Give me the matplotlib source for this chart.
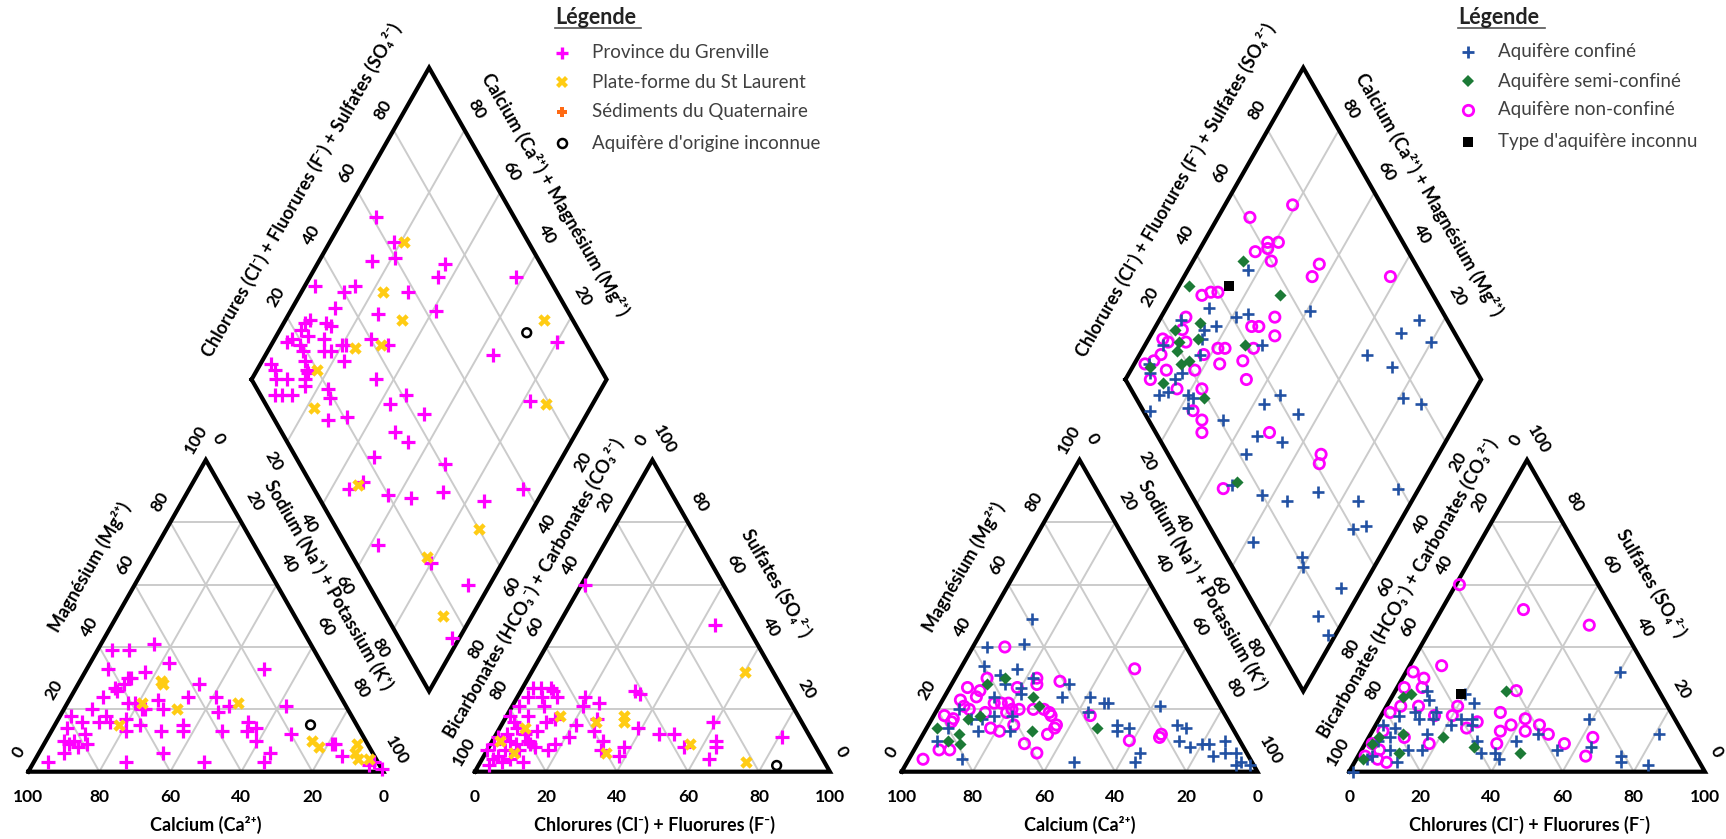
import numpy as np
import matplotlib
matplotlib.use("Agg")
import matplotlib.pyplot as plt
from matplotlib.lines import Line2D

plt.rcParams["font.family"] = ["Lato", "DejaVu Sans"]

# ----------------------------------------------------------------------
# Piper data (percent of meq/L)
#   cation triangle : (Mg, Na+K)        Ca = 100 - Mg - (Na+K)
#   anion triangle  : (SO4, Cl+F)       HCO3+CO3 = 100 - SO4 - (Cl+F)
#   diamond         : (Na+K, Cl+F+SO4)
# ----------------------------------------------------------------------

# ---- left diagram : geological setting ----
grenville_cat = [(39, 4), (39, 9), (41, 15), (35, 22), (33, 6), (32, 17), (30, 13), (30, 14),
                 (28, 13), (27, 11), (26, 12), (28, 34), (24, 33), (24, 41), (33, 50), (24, 9),
                 (23, 25), (22, 17), (22, 19), (20, 22), (20, 28), (20, 8), (19, 44), (21, 46),
                 (21, 62), (18, 3), (18, 13), (16, 12), (16, 15), (17, 19), (15, 24), (15, 36),
                 (13, 37), (13, 21), (13, 31), (13, 48), (16, 54), (14, 57), (13, 55), (14, 4),
                 (16, 7), (10, 5), (10, 8), (12, 10), (8, 10), (9, 12), (6, 7), (6, 35), (3, 4),
                 (3, 26), (3, 48), (6, 65), (3, 65), (10, 59), (12, 68), (9, 81), (9, 82), (5, 86),
                 (2, 95), (1, 99), (3, 96), (9, 7), (20, 23)]
grenville_an = [(60, 1), (47, 44), (11, 81), (16, 59), (10, 63), (8, 64), (4, 64), (8, 55),
                (12, 46), (12, 50), (26, 32), (25, 34), (14, 39), (8, 38), (5, 38), (10, 31),
                (7, 32), (17, 26), (13, 27), (24, 19), (21, 20), (22, 24), (15, 21), (11, 21),
                (17, 14), (9, 18), (7, 17), (21, 9), (26, 9), (27, 8), (27, 5), (27, 3), (24, 7),
                (24, 3), (21, 2), (16, 12), (13, 11), (9, 11), (8, 13), (3, 12), (3, 6), (4, 3),
                (7, 0), (9, 1), (12, 3), (16, 3), (18, 1), (14, 5), (12, 8), (9, 7), (7, 5),
                (5, 4), (10, 5), (18, 6), (11, 1), (7, 9), (2, 3), (4, 8), (10, 10), (24, 11)]
grenville_dia = [(9, 61), (18, 62), (15, 53), (21, 60), (36, 73), (36, 69), (58, 91), (3, 33),
                 (12, 40), (14, 44), (30, 58), (12, 35), (25, 46), (41, 63), (7, 26), (6, 24),
                 (12, 30), (14, 31), (6, 22), (9, 23), (5, 18), (4, 16), (14, 27), (8, 19),
                 (10, 19), (16, 25), (18, 27), (20, 31), (21, 32), (27, 40), (33, 44), (23, 29),
                 (12, 18), (14, 17), (15, 17), (3, 8), (5, 8), (7, 7), (10, 10), (15, 15), (9, 4),
                 (11, 6), (14, 9), (16, 14), (23, 20), (25, 19), (28, 15), (33, 21), (35, 35),
                 (46, 41), (43, 35), (54, 43), (49, 32), (54, 34), (64, 72), (80, 92), (82, 75),
                 (47, 22), (68, 41), (45, 10), (48, 15), (57, 20), (64, 26), (72, 36), (85, 46),
                 (94, 59), (62, 9), (80, 21), (94, 28), (98, 15)]

stlaurent_cat = [(29, 23), (28, 24), (22, 21), (20, 32), (15, 18), (22, 48), (10, 75), (8, 78),
                 (9, 88), (6, 89), (4, 91), (4, 94)]
stlaurent_an = [(32, 60), (3, 75), (9, 56), (18, 33), (16, 34), (6, 34), (18, 15), (16, 26),
                (6, 8), (14, 7), (10, 2)]
stlaurent_dia = [(21, 65), (23, 51), (33, 52), (24, 34), (31, 42), (17, 20), (22, 13), (73, 92),
                 (87, 79), (47, 13), (88, 40), (78, 21), (92, 16)]

unknown_origin_cat = [(15, 72)]
unknown_origin_an = [(2, 84)]
unknown_origin_dia = [(70, 85)]

# ---- right diagram : aquifer confinement ----
confined_cat = [(49, 12), (40, 4), (41, 14), (34, 6), (33, 16), (31, 12), (28, 15), (30, 22),
                (27, 20), (28, 33), (24, 33), (24, 41), (22, 46), (22, 47), (21, 62), (19, 43),
                (15, 53), (14, 57), (13, 54), (15, 70), (14, 73), (10, 73), (8, 77), (9, 80),
                (9, 82), (10, 86), (6, 88), (6, 91), (5, 85), (3, 94), (2, 97), (2, 93), (6, 64),
                (3, 64), (3, 47), (13, 24), (18, 17), (13, 15), (17, 11), (20, 6), (14, 6),
                (10, 5), (4, 15), (25, 21), (24, 14), (17, 14), (18, 22)]
confined_an = [(32, 60), (17, 59), (12, 81), (5, 74), (3, 75), (2, 83), (8, 64), (7, 55),
               (12, 47), (10, 42), (4, 40), (6, 38), (10, 31), (6, 34), (22, 24), (25, 20),
               (17, 26), (17, 23), (15, 21), (19, 15), (23, 11), (26, 9), (19, 9), (17, 11),
               (7, 17), (12, 16), (7, 13), (18, 5), (14, 6), (11, 6), (7, 8), (10, 3), (5, 4),
               (4, 3), (0, 1), (3, 12), (15, 2), (17, 15), (15, 27)]
confined_dia = [(17, 52), (12, 35), (21, 41), (24, 45), (17, 34), (14, 30), (41, 63), (6, 25),
                (15, 28), (33, 44), (17, 25), (5, 16), (4, 9), (6, 8), (15, 17), (14, 14),
                (12, 7), (14, 10), (20, 15), (22, 16), (22, 13), (34, 21), (12, 2), (43, 35),
                (46, 41), (54, 43), (46, 28), (54, 34), (64, 72), (70, 85), (73, 92), (80, 92),
                (73, 77), (81, 75), (87, 79), (46, 22), (47, 13), (57, 20), (65, 26), (72, 36),
                (85, 46), (94, 59), (88, 40), (91, 44), (62, 10), (78, 21), (80, 20), (94, 27),
                (92, 16), (98, 16)]

semiconfined_cat = [(28, 10), (30, 14), (24, 25), (21, 28), (18, 13), (17, 10), (14, 3), (10, 8),
                    (12, 10), (9, 12), (13, 30), (14, 48)]
semiconfined_an = [(26, 31), (11, 21), (8, 31), (6, 45), (24, 3), (25, 5), (12, 9), (9, 2),
                   (11, 3), (6, 11), (4, 2)]
semiconfined_dia = [(14, 52), (3, 33), (30, 57), (12, 30), (6, 22), (9, 21), (14, 27), (28, 39),
                    (10, 19), (13, 18), (15, 21), (11, 10), (5, 9), (25, 19), (48, 15)]

unconfined_cat = [(40, 9), (33, 49), (30, 9), (27, 5), (26, 9), (30, 23), (28, 24), (29, 30),
                  (27, 19), (23, 5), (21, 7), (24, 9), (22, 15), (22, 17), (22, 19), (20, 21),
                  (20, 23), (20, 27), (20, 30), (19, 32), (18, 33), (15, 36), (14, 36), (12, 35),
                  (15, 24), (13, 21), (14, 18), (18, 3), (16, 6), (17, 6), (9, 30), (6, 35),
                  (7, 7), (7, 10), (4, 4), (18, 44), (10, 59), (12, 67), (11, 67), (19, 14),
                  (20, 9), (19, 20)]
unconfined_an = [(60, 1), (52, 23), (47, 44), (34, 9), (32, 2), (30, 6), (27, 7), (27, 2),
                 (26, 34), (21, 9), (21, 20), (19, 33), (18, 20), (18, 15), (16, 28), (14, 26),
                 (13, 36), (15, 38), (17, 41), (13, 43), (15, 46), (12, 50), (9, 56), (11, 63),
                 (5, 64), (9, 37), (9, 18), (3, 9), (4, 6), (19, 2), (13, 3), (9, 2), (5, 2),
                 (21, 4), (11, 10), (7, 5)]
unconfined_dia = [(19, 75), (9, 61), (18, 62), (21, 65), (16, 57), (19, 61), (22, 60), (36, 73),
                  (36, 69), (58, 91), (8, 35), (10, 38), (12, 40), (32, 52), (27, 44), (29, 46),
                  (35, 49), (7, 27), (8, 24), (4, 17), (6, 18), (11, 23), (18, 26), (21, 31),
                  (23, 33), (24, 29), (30, 36), (31, 41), (3, 8), (5, 11), (7, 7), (10, 13),
                  (16, 13), (18, 21), (23, 20), (24, 14), (28, 15), (30, 13), (34, 34), (49, 32),
                  (67, 43), (6, 14), (68, 41), (45, 10)]

unknown_type_cat = []
unknown_type_an = [(25, 19)]
unknown_type_dia = [(14, 44)]

tick_values = [0, 20, 40, 60, 80, 100]
inner_ticks = [20, 40, 60, 80]

# ----------------------------------------------------------------------
# Piper geometry (triangle side = 100 units)
# ----------------------------------------------------------------------
SQ = np.sqrt(3) / 2
GAP = 25.8
XA = 100 + GAP                 # left corner of the anion triangle
DX0 = 50 + GAP / 2             # left corner of the diamond
DY0 = (100 + GAP) * SQ


def cat_xy(pts):
    a = np.asarray(pts, float).reshape(-1, 2)
    mg, na = a[:, 0], a[:, 1]
    return na + mg / 2, mg * SQ


def an_xy(pts):
    a = np.asarray(pts, float).reshape(-1, 2)
    so4, cl = a[:, 0], a[:, 1]
    return XA + cl + so4 / 2, so4 * SQ


def dia_xy(pts):
    a = np.asarray(pts, float).reshape(-1, 2)
    na, s = a[:, 0], a[:, 1]
    return DX0 + (na + s) / 2, DY0 + (s - na) * SQ


def dia_pt(na, s):
    x, y = dia_xy([(na, s)])
    return x[0], y[0]


W, HP = 1726, 839
fig = plt.figure(figsize=(W / 100, HP / 100), dpi=100)
fig.patch.set_facecolor("white")


def make_axes(ox, oy, sx, sy):
    ax = fig.add_axes([0, 0, 1, 1])
    ax.set_xlim(-ox / sx, (W - ox) / sx)
    ax.set_ylim(-(HP - oy) / sy, oy / sy)
    ax.axis("off")
    ax.patch.set_alpha(0)
    return ax


GRID = dict(color="#CBCBCB", lw=1.4, zorder=1, solid_capstyle="butt")
EDGE = dict(color="black", lw=3.0, zorder=2, solid_joinstyle="miter", solid_capstyle="projecting")
TICK = dict(fontsize=12.5, fontweight="bold", color="black", ha="center", va="center",
            rotation_mode="anchor", annotation_clip=False)
TITLE = dict(fontsize=13, fontweight="bold", color="black", ha="center", va="center",
             rotation_mode="anchor")


def tick(ax, x, y, txt, off, rot):
    ax.annotate(txt, (x, y), xytext=off, textcoords="offset pixels", rotation=rot, **TICK)


def frame(ax):
    for v in inner_ticks:
        # cation triangle
        ax.plot([v / 2, 100 - v / 2], [v * SQ, v * SQ], **GRID)
        ax.plot([v, v + (100 - v) / 2], [0, (100 - v) * SQ], **GRID)
        ax.plot([100 - v, (100 - v) / 2], [0, (100 - v) * SQ], **GRID)
        # anion triangle
        ax.plot([XA + v / 2, XA + 100 - v / 2], [v * SQ, v * SQ], **GRID)
        ax.plot([XA + v, XA + v + (100 - v) / 2], [0, (100 - v) * SQ], **GRID)
        ax.plot([XA + 100 - v, XA + (100 - v) / 2], [0, (100 - v) * SQ], **GRID)
        # diamond
        p0, p1 = dia_pt(0, v), dia_pt(100, v)
        ax.plot([p0[0], p1[0]], [p0[1], p1[1]], **GRID)
        p0, p1 = dia_pt(v, 0), dia_pt(v, 100)
        ax.plot([p0[0], p1[0]], [p0[1], p1[1]], **GRID)

    ax.plot([0, 100, 50, 0], [0, 0, 100 * SQ, 0], **EDGE)
    ax.plot([XA, XA + 100, XA + 50, XA], [0, 0, 100 * SQ, 0], **EDGE)
    corners = [dia_pt(0, 0), dia_pt(100, 0), dia_pt(100, 100), dia_pt(0, 100), dia_pt(0, 0)]
    ax.plot([c[0] for c in corners], [c[1] for c in corners], **EDGE)

    # triangle scales
    for v in tick_values:
        tick(ax, 100 - v, 0, str(v), (0, -25), 0)                       # Ca
        tick(ax, v / 2, v * SQ, str(v), (-10, 20), 60)                  # Mg
        tick(ax, v + (100 - v) / 2, (100 - v) * SQ, str(v), (13, 21), -60)  # Na+K
        tick(ax, XA + v, 0, str(v), (0, -25), 0)                        # Cl+F
        tick(ax, XA + (100 - v) / 2, (100 - v) * SQ, str(v), (-11, 20), 60)  # HCO3+CO3
        tick(ax, XA + 100 - v / 2, v * SQ, str(v), (12, 20), -60)        # SO4
    # diamond scales
    for v in inner_ticks:
        x, y = dia_pt(0, v)
        tick(ax, x, y, str(v), (-11, 20), 60)
        x, y = dia_pt(100 - v, 100)
        tick(ax, x, y, str(v), (12, 21), -60)
        x, y = dia_pt(v, 0)
        tick(ax, x, y, str(v), (-13, -19), -60)
        x, y = dia_pt(100, 100 - v)
        tick(ax, x, y, str(v), (12, -20), 60)

    titles = [
        ("Calcium (Ca²⁺)", 50, -14.8, 0),
        ("Magnésium (Mg²⁺)", 17.4, 56.9, 60),
        ("Sodium (Na⁺) + Potassium (K⁺)", 84.5, 51.9, -60),
        ("Chlorures (Cl⁻) + Fluorures (F⁻)", XA + 50.7, -14.8, 0),
        ("Sulfates (SO₄²⁻)", XA + 85.0, 52.3, -60),
        ("Bicarbonates (HCO₃⁻) + Carbonates (CO₃²⁻)", XA + 16.5, 50.9, 60),
        ("Chlorures (Cl⁻) + Fluorures (F⁻) + Sulfates (SO₄²⁻)", 77.0, 161.6, 60),
        ("Calcium (Ca²⁺) + Magnésium (Mg²⁺)", 148.4, 160.4, -60),
    ]
    for txt, x, y, rot in titles:
        ax.text(x, y, txt, rotation=rot, **TITLE)


def plot_series(ax, cat, an, dia, **style):
    for pts, fn in ((cat, cat_xy), (an, an_xy), (dia, dia_xy)):
        if len(pts):
            x, y = fn(pts)
            ax.scatter(x, y, **style)


def legend(x_head, x_mark, x_text, rows, x_line_end):
    fig.text(x_head / W, 1 - 24 / HP, "Légende", fontsize=15.5, fontweight="bold",
             color="#222222", ha="left", va="baseline")
    fig.add_artist(Line2D([x_head / W, x_line_end / W], [1 - 28 / HP] * 2,
                          color="#555555", lw=1.2))
    for (style, label, y) in rows:
        fig.add_artist(Line2D([x_mark / W], [1 - y / HP], ls="none", **style))
        fig.text(x_text / W, 1 - y / HP, label, fontsize=13.5, color="#404040",
                 ha="left", va="center")


MAG = "#FF00FF"
YEL = "#FFCC14"
ORA = "#FF6A13"
BLU = "#2251A3"
GRN = "#1C7A36"

# ---- left diagram ----
axL = make_axes(28.3, 771.7, 3.55, 3.6)
frame(axL)
plot_series(axL, grenville_cat, grenville_an, grenville_dia,
            marker="+", s=90, linewidths=2.3, c=MAG, zorder=3)
plot_series(axL, stlaurent_cat, stlaurent_an, stlaurent_dia,
            marker="X", s=80, c=YEL, linewidths=0, zorder=4)
plot_series(axL, unknown_origin_cat, unknown_origin_an, unknown_origin_dia,
            marker="o", s=40, facecolors="none", edgecolors="black", linewidths=1.8, zorder=5)

# ---- right diagram ----
axR = make_axes(901.7, 771.7, 3.557, 3.6)
frame(axR)
plot_series(axR, unconfined_cat, unconfined_an, unconfined_dia,
            marker="o", s=55, facecolors="none", edgecolors=MAG, linewidths=2.0, zorder=3)
plot_series(axR, confined_cat, confined_an, confined_dia,
            marker="+", s=65, linewidths=1.9, c=BLU, zorder=4)
plot_series(axR, semiconfined_cat, semiconfined_an, semiconfined_dia,
            marker="D", s=38, c=GRN, linewidths=0, zorder=5)
plot_series(axR, unknown_type_cat, unknown_type_an, unknown_type_dia,
            marker="s", s=50, c="black", linewidths=0, zorder=6)

# ---- legends ----
left_rows = [
    (dict(marker="+", color=MAG, markersize=9, mew=2.4), "Province du Grenville", 53),
    (dict(marker="X", color=YEL, markersize=8.5, mew=0), "Plate-forme du St Laurent", 82),
    (dict(marker="P", color=ORA, markersize=7.5, mew=0), "Sédiments du Quaternaire", 112),
    (dict(marker="o", markerfacecolor="none", markeredgecolor="black", markersize=6.5, mew=1.8),
     "Aquifère d'origine inconnue", 143),
]
legend(555, 561.7, 591.7, left_rows, 641)

right_rows = [
    (dict(marker="+", color=BLU, markersize=8, mew=2.0), "Aquifère confiné", 52),
    (dict(marker="D", color=GRN, markersize=6, mew=0), "Aquifère semi-confiné", 81),
    (dict(marker="o", markerfacecolor="none", markeredgecolor=MAG, markersize=7.5, mew=2.0),
     "Aquifère non-confiné", 110),
    (dict(marker="s", color="black", markersize=7, mew=0), "Type d'aquifère inconnu", 142),
]
legend(1458, 1468.3, 1498.3, right_rows, 1545)

fig.savefig("out.png", dpi=100, facecolor="white")
